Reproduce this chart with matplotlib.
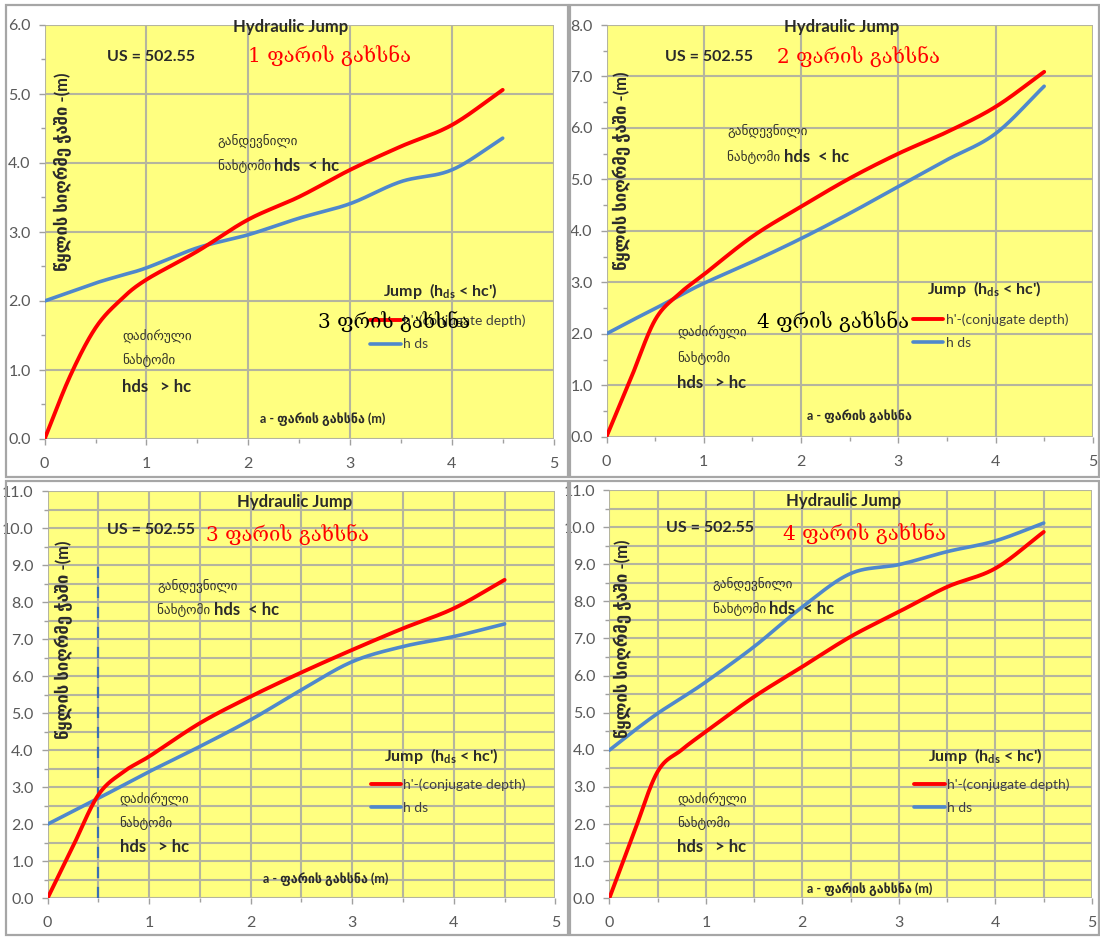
import numpy as np
import matplotlib
matplotlib.use("Agg")
import matplotlib.pyplot as plt
from matplotlib.patches import Rectangle

# ---- data: gate opening a (m) vs depths (m) ----
gate_opening = [0, 0.25, 0.5, 0.75, 1.0, 1.5, 2.0, 2.5, 3.0, 3.5, 4.0, 4.5]

conj_1 = [0, 0.91, 1.61, 2.02, 2.31, 2.72, 3.18, 3.51, 3.90, 4.24, 4.55, 5.06]
hds_1 = [2.0, 2.13, 2.26, 2.37, 2.48, 2.77, 2.96, 3.20, 3.41, 3.73, 3.90, 4.36]

conj_2 = [0, 1.13, 2.27, 2.78, 3.15, 3.89, 4.47, 5.02, 5.50, 5.92, 6.41, 7.09]
hds_2 = [2.0, 2.25, 2.49, 2.74, 2.98, 3.40, 3.85, 4.34, 4.86, 5.38, 5.89, 6.81]

conj_3 = [0, 1.40, 2.79, 3.42, 3.83, 4.73, 5.45, 6.10, 6.71, 7.29, 7.83, 8.60]
hds_3 = [2.0, 2.35, 2.70, 3.06, 3.42, 4.10, 4.82, 5.63, 6.39, 6.80, 7.07, 7.41]

conj_4 = [0, 1.73, 3.41, 4.00, 4.49, 5.43, 6.24, 7.05, 7.72, 8.39, 8.89, 9.87]
hds_4 = [3.99, 4.50, 4.98, 5.40, 5.83, 6.78, 7.85, 8.75, 8.99, 9.34, 9.63, 10.11]

gate_titles = ["1 ფარის გახსნა", "2 ფარის გახსნა", "3 ფარის გახსნა", "4 ფარის გახსნა"]
y_limits = [6, 8, 11, 11]
x_labels = ["a - ფარის გახსნა (m)", "a - ფარის გახსნა", "a - ფარის გახსნა (m)", "a - ფარის გახსნა (m)"]
overlay_titles = ["3 ფრის გახსნა", "4 ფრის გახსნა", None, None]
dashed_limit_x = [None, None, 0.5, None]
dashed_limit_top = 9.0

chart_title = "Hydraulic Jump"
us_label = "US = 502.55"
y_label = "წყლის სიღრმე ჭაში -(m)"
swept_1 = "განდევნილი"
swept_2 = "ნახტომი "
swept_3 = "hds  < hc"
drowned_1 = "დაძირული"
drowned_2 = "ნახტომი"
drowned_3 = "hds   > hc"
jump_label = "Jump  (h$\\mathregular{_{ds}}$ < hc')"
legend_conj = "h'-(conjugate depth)"
legend_hds = "h ds"

# ---- style ----
W, H = 1100, 938
YELLOW = "#FFFF80"
GRID = "#B5B59E"
RED = "#FF0000"
BLUE = "#4F88CC"
DARK = "#2A2A2A"
TICK = "#595959"
SANS = ["Liberation Sans Narrow", "Lato", "DejaVu Sans"]
SERIF = ["DejaVu Serif", "DejaVu Sans"]

plt.rcParams["font.family"] = SANS
plt.rcParams["mathtext.fontset"] = "custom"
plt.rcParams["mathtext.rm"] = "Lato:bold"


def smooth(x, y, n=24):
    """Catmull-Rom spline through the points (Excel-like smoothed line)."""
    P = np.column_stack([np.asarray(x, float), np.asarray(y, float)])
    P = np.vstack([2 * P[0] - P[1], P, 2 * P[-1] - P[-2]])
    t = np.linspace(0, 1, n, endpoint=False)[:, None]
    segs = []
    for i in range(1, len(P) - 2):
        p0, p1, p2, p3 = P[i - 1], P[i], P[i + 1], P[i + 2]
        segs.append(0.5 * (2 * p1 + (p2 - p0) * t
                           + (2 * p0 - 5 * p1 + 4 * p2 - p3) * t ** 2
                           + (3 * p1 - p0 - 3 * p2 + p3) * t ** 3))
    segs.append(P[-2][None, :])
    arr = np.vstack(segs)
    return arr[:, 0], arr[:, 1]


# axes boxes in pixels: (left, right, top, bottom)
boxes = [(44.6, 553.6, 25.0, 439.0),
         (606.5, 1092.8, 25.0, 436.7),
         (47.5, 555.4, 491.0, 898.3),
         (609.3, 1092.0, 490.0, 898.3)]
frames = [(6, 568, 5, 477), (570, 1099, 5, 477), (6, 568, 481, 935), (570, 1099, 481, 935)]

# text anchors in axes fractions for each panel
layout = [
    dict(title=(0.484, 0.994), us=(0.123, 0.923), gate=(0.400, 0.923),
         sw1=(0.340, 0.718), sw2=(0.340, 0.659), jump=(0.665, 0.357),
         leg=(0.640, 0.300), over=(0.537, 0.281),
         dr1=(0.152, 0.247), dr2=(0.152, 0.191), dr3=(0.152, 0.126),
         xl=(0.546, 0.048), yl=(0.035, 0.646)),
    dict(title=(0.483, 0.994), us=(0.120, 0.922), gate=(0.350, 0.922),
         sw1=(0.248, 0.741), sw2=(0.248, 0.680), jump=(0.659, 0.358),
         leg=(0.630, 0.300), over=(0.309, 0.277),
         dr1=(0.145, 0.251), dr2=(0.145, 0.190), dr3=(0.145, 0.130),
         xl=(0.521, 0.049), yl=(0.032, 0.646)),
    dict(title=(0.487, 0.972), us=(0.117, 0.904), gate=(0.313, 0.892),
         sw1=(0.216, 0.765), sw2=(0.216, 0.708), jump=(0.662, 0.349),
         leg=(0.636, 0.295), over=None,
         dr1=(0.142, 0.241), dr2=(0.142, 0.186), dr3=(0.142, 0.127),
         xl=(0.548, 0.047), yl=(0.032, 0.634)),
    dict(title=(0.485, 0.973), us=(0.117, 0.906), gate=(0.359, 0.890),
         sw1=(0.214, 0.767), sw2=(0.214, 0.708), jump=(0.661, 0.349),
         leg=(0.632, 0.294), over=None,
         dr1=(0.140, 0.240), dr2=(0.140, 0.185), dr3=(0.140, 0.126),
         xl=(0.540, 0.022), yl=(0.028, 0.635)),
]

series = [(conj_1, hds_1), (conj_2, hds_2), (conj_3, hds_3), (conj_4, hds_4)]
fine_grid = [False, False, True, True]

fig = plt.figure(figsize=(W / 100, H / 100), dpi=100)
fig.patch.set_facecolor("white")

for (fl, fr, ft, fb) in frames:
    fig.patches.append(Rectangle((fl / W, 1 - fb / H), (fr - fl) / W, (fb - ft) / H,
                                 transform=fig.transFigure, fill=False,
                                 edgecolor="#A6A6A6", lw=1.6, zorder=0))

for k in range(4):
    l, r, t, b = boxes[k]
    ax = fig.add_axes([l / W, 1 - b / H, (r - l) / W, (b - t) / H])
    ax.set_facecolor(YELLOW)
    ax.set_xlim(0, 5)
    ax.set_ylim(0, y_limits[k])
    for s in ax.spines.values():
        s.set_visible(False)

    ax.set_xticks(np.arange(0, 6, 1))
    ax.set_xticks(np.arange(0.5, 5, 1), minor=True)
    ax.set_yticks(np.arange(0, y_limits[k] + 0.5, 1))
    ax.set_yticks(np.arange(0.5, y_limits[k], 1), minor=True)
    ax.set_xticklabels([f"{v:d}" for v in range(6)])
    ax.set_yticklabels([f"{v:.1f}" for v in np.arange(0, y_limits[k] + 0.5, 1)])
    ax.tick_params(which="both", direction="out", color="#A0A0A0", width=1.0)
    ax.tick_params(which="major", length=4)
    ax.tick_params(which="minor", length=3)
    ax.tick_params(axis="x", pad=9, labelsize=11.5, labelcolor=TICK)
    ax.tick_params(axis="y", pad=6, labelsize=11.5, labelcolor=TICK)

    ax.grid(True, which="major", color=GRID, lw=1.5)
    if fine_grid[k]:
        ax.grid(True, which="minor", color=GRID, lw=1.5)
    ax.set_axisbelow(True)

    conj, hds = series[k]
    xs, ys = smooth(gate_opening, conj)
    ax.plot(xs, ys, color=RED, lw=2.8, solid_capstyle="round", zorder=4,
            label=legend_conj)
    xs, ys = smooth(gate_opening, hds)
    ax.plot(xs, ys, color=BLUE, lw=2.6, solid_capstyle="round", zorder=3,
            label=legend_hds)

    if dashed_limit_x[k] is not None:
        ax.plot([dashed_limit_x[k], dashed_limit_x[k]], [0, dashed_limit_top],
                color="#3A6FB5", lw=1.6, ls=(0, (5, 4)), zorder=2)

    L = layout[k]
    tr = ax.transAxes
    ax.text(*L["title"], chart_title, transform=tr, ha="center", va="center",
            fontsize=12, fontweight="bold", color=DARK, zorder=6)
    ax.text(*L["us"], us_label, transform=tr, ha="left", va="center",
            fontsize=11.5, fontweight="bold", color=DARK, zorder=6)
    ax.text(*L["gate"], gate_titles[k], transform=tr, ha="left", va="center",
            fontsize=14.5, color=RED, family=SERIF, zorder=6)
    ax.text(*L["sw1"], swept_1, transform=tr, ha="left", va="center",
            fontsize=9.5, color="#33332A", zorder=6)
    t2 = ax.text(*L["sw2"], swept_2, transform=tr, ha="left", va="center",
                 fontsize=9.5, color="#33332A", zorder=6)
    fig.canvas.draw()
    bb = t2.get_window_extent().transformed(tr.inverted())
    ax.text(bb.x1, L["sw2"][1], swept_3, transform=tr, ha="left", va="center",
            fontsize=12, fontweight="bold", color=DARK, zorder=6)
    ax.text(*L["jump"], jump_label, transform=tr, ha="left", va="center",
            fontsize=11.5, fontweight="bold", color=DARK, zorder=6)
    ax.text(*L["dr1"], drowned_1, transform=tr, ha="left", va="center",
            fontsize=9.5, color="#33332A", zorder=6)
    ax.text(*L["dr2"], drowned_2, transform=tr, ha="left", va="center",
            fontsize=9.5, color="#33332A", zorder=6)
    ax.text(*L["dr3"], drowned_3, transform=tr, ha="left", va="center",
            fontsize=12, fontweight="bold", color=DARK, zorder=6)
    ax.text(*L["xl"], x_labels[k], transform=tr, ha="center", va="center",
            fontsize=9, fontweight="bold", color=DARK, zorder=6)
    ax.text(*L["yl"], y_label, transform=tr, ha="center", va="center",
            rotation=90, fontsize=12, fontweight="bold", color=DARK, zorder=6)

    leg = ax.legend(loc="upper left", bbox_to_anchor=L["leg"], frameon=False,
                    handlelength=2.2, handletextpad=0.15, labelspacing=0.8,
                    borderpad=0, borderaxespad=0,
                    prop=dict(size=10))
    for txt in leg.get_texts():
        txt.set_color("#404040")
    leg.set_zorder(5)

    if overlay_titles[k]:
        ax.text(*L["over"], overlay_titles[k], transform=tr, ha="left",
                va="center", fontsize=14.5, color="black", family=SERIF,
                zorder=7)

fig.savefig("out.png", dpi=100, facecolor="white")
